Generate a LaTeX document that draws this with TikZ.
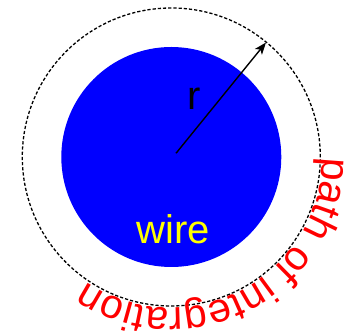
\documentclass[tikz,border=0pt]{standalone}
\usepackage{fontspec}
\setmainfont{Liberation Sans}
\usetikzlibrary{arrows.meta,decorations.text}
\tikzset{
  wirefill/.style={fill={rgb,255:red,0;green,0;blue,255}, draw=none},
  pathcircle/.style={draw=black, line width=1.3pt, dash pattern=on 3.2pt off 2pt},
  radiusarrow/.style={draw=black, line width=1.4pt, -{Stealth[length=12pt,width=9pt,inset=3pt]}},
  bigtext/.style={font=\fontsize{40}{48}\selectfont, inner sep=0pt, anchor=base}
}
\begin{document}
\begin{tikzpicture}[x=1pt,y=1pt]
\useasboundingbox (0,0) rectangle (348,331);
\coordinate (c) at (171.3,174);
\fill[wirefill] (c) circle[radius=110];
\draw[pathcircle] (c) circle[radius=149];
\coordinate (s) at (176,177.7);
\coordinate (t) at (266,288.5);
\draw[radiusarrow] (s) -- (t);
\node[bigtext, text=black] (r) at (194.5,221) {r};
\node[bigtext, text={rgb,255:red,255;green,255;blue,0}] (w) at (173.5,87.7) {wire};
\path[decorate, decoration={text along path, text color=red,
  text={|\fontsize{41}{48}\selectfont|path of integration}}]
  (c) ++(0:151) arc[start angle=0, end angle=-135, radius=151];
\end{tikzpicture}
\end{document}
